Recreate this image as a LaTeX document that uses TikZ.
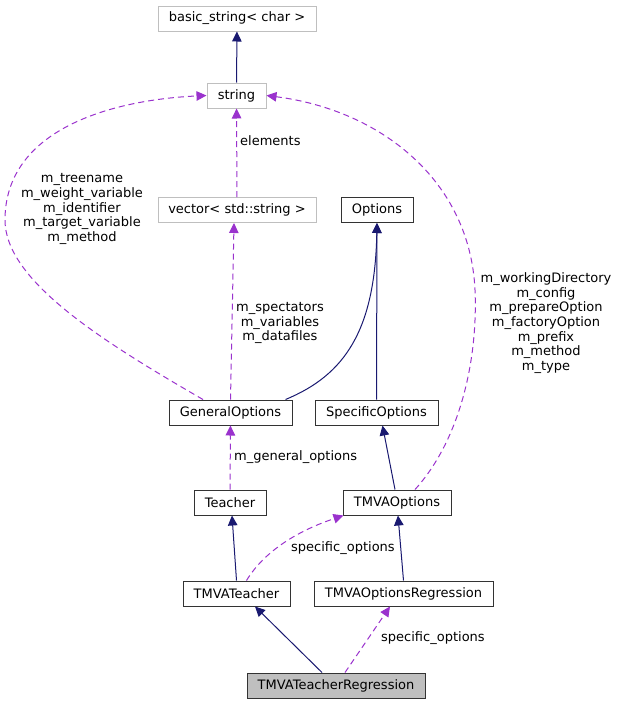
\documentclass[tikz,border=0pt]{standalone}
\usepackage{fontspec}
\setmainfont{DejaVu Sans}
\usetikzlibrary{arrows.meta}
\definecolor{edgeblue}{HTML}{191970}
\definecolor{edgepurple}{HTML}{9A32CD}
\definecolor{boxgray}{HTML}{BFBFBF}
\tikzstyle{cls}=[shape=rectangle,minimum height=25pt,inner sep=0,draw=black!80,fill=white,line width=1pt,font=\fontsize{13}{14.6}\selectfont]
\tikzstyle{ext}=[cls,draw=boxgray]
\tikzstyle{here}=[cls,fill=boxgray]
\tikzstyle{inherit}=[edgeblue,line width=1pt,->,>={Stealth[inset=0pt,length=10pt,width=9.5pt]}]
\tikzstyle{member}=[edgepurple,line width=1pt,dash pattern=on 6pt off 4pt,->,>={Stealth[inset=0pt,length=10pt,width=9.5pt]}]
\tikzstyle{lbl}=[align=center,inner sep=0,font=\fontsize{13}{14.6}\selectfont]

\begin{document}
\begin{tikzpicture}[x=1pt,y=-1pt]
\useasboundingbox (0,0) rectangle (619,704);

\node[ext,minimum width=158pt] (bstr) at (237,18.5) {basic\_string< char >};
\node[ext,minimum width=59pt] (str) at (236.5,95.5) {string};
\node[ext,minimum width=158pt] (vec) at (237,210) {vector< std::string >};
\node[cls,minimum width=72pt] (opt) at (377,210) {Options};
\node[cls,minimum width=123pt] (gen) at (230.5,412.5) {GeneralOptions};
\node[cls,minimum width=123pt] (spec) at (376.5,412.5) {SpecificOptions};
\node[cls,minimum width=72pt] (teach) at (230,502.5) {Teacher};
\node[cls,minimum width=108pt] (tmvaopt) at (397,502.5) {TMVAOptions};
\node[cls,minimum width=107pt] (tmvateach) at (236.5,593.5) {TMVATeacher};
\node[cls,minimum width=179pt] (optreg) at (403.5,593.5) {TMVAOptionsRegression};
\node[here,minimum width=178pt] (teachreg) at (336,685.5) {TMVATeacherRegression};

\draw[inherit] (str) -- (bstr);
\draw[member] (vec) -- (str);
\draw[member] ([xshift=-27.5pt]gen.north) .. controls (100,340) and (5,280) .. (5,220)
 .. controls (5,130) and (110,100) .. (str.west);
\draw[member] (gen.north) -- ([xshift=-3pt]vec.south);
\draw[inherit] ([xshift=55pt]gen.north) .. controls (345,375) and (375,330) .. (opt.south);
\draw[inherit] (spec) -- (opt);
\draw[member] ([xshift=18pt]tmvaopt.north) .. controls (460,440) and (478,360) .. (475,290)
 .. controls (470,180) and (380,110) .. (str.east);
\draw[inherit] ([xshift=-2pt]tmvaopt.north) -- ([xshift=6pt]spec.south);
\draw[member] (teach) -- (gen);
\draw[inherit] (tmvateach.north) -- ([xshift=2pt]teach.south);
\draw[member] ([xshift=10pt]tmvateach.north) .. controls (265,550) and (300,530) .. ([xshift=1pt]tmvaopt.south west);
\draw[inherit] (optreg.north) -- ([xshift=1pt]tmvaopt.south);
\draw[inherit] ([xshift=-14pt]teachreg.north) -- ([xshift=18.5pt]tmvateach.south);
\draw[member] ([xshift=9pt]teachreg.north) -- ([xshift=-13.5pt]optreg.south);

\node[lbl,anchor=west] (lelem) at (240,140.5) {elements};
\node[lbl] (lgen) at (82,209) {m\_treename\\m\_weight\_variable\\m\_identifier\\m\_target\_variable\\m\_method};
\node[lbl] (lvec) at (280,323) {m\_spectators\\m\_variables\\m\_datafiles};
\node[lbl] (ltmva) at (546,323) {m\_workingDirectory\\m\_config\\m\_prepareOption\\m\_factoryOption\\m\_prefix\\m\_method\\m\_type};
\node[lbl,anchor=west] (lgenopt) at (234,457) {m\_general\_options};
\node[lbl,anchor=west] (lspec) at (291,548) {specific\_options};
\node[lbl,anchor=west] (lspecreg) at (381,638) {specific\_options};
\end{tikzpicture}
\end{document}
